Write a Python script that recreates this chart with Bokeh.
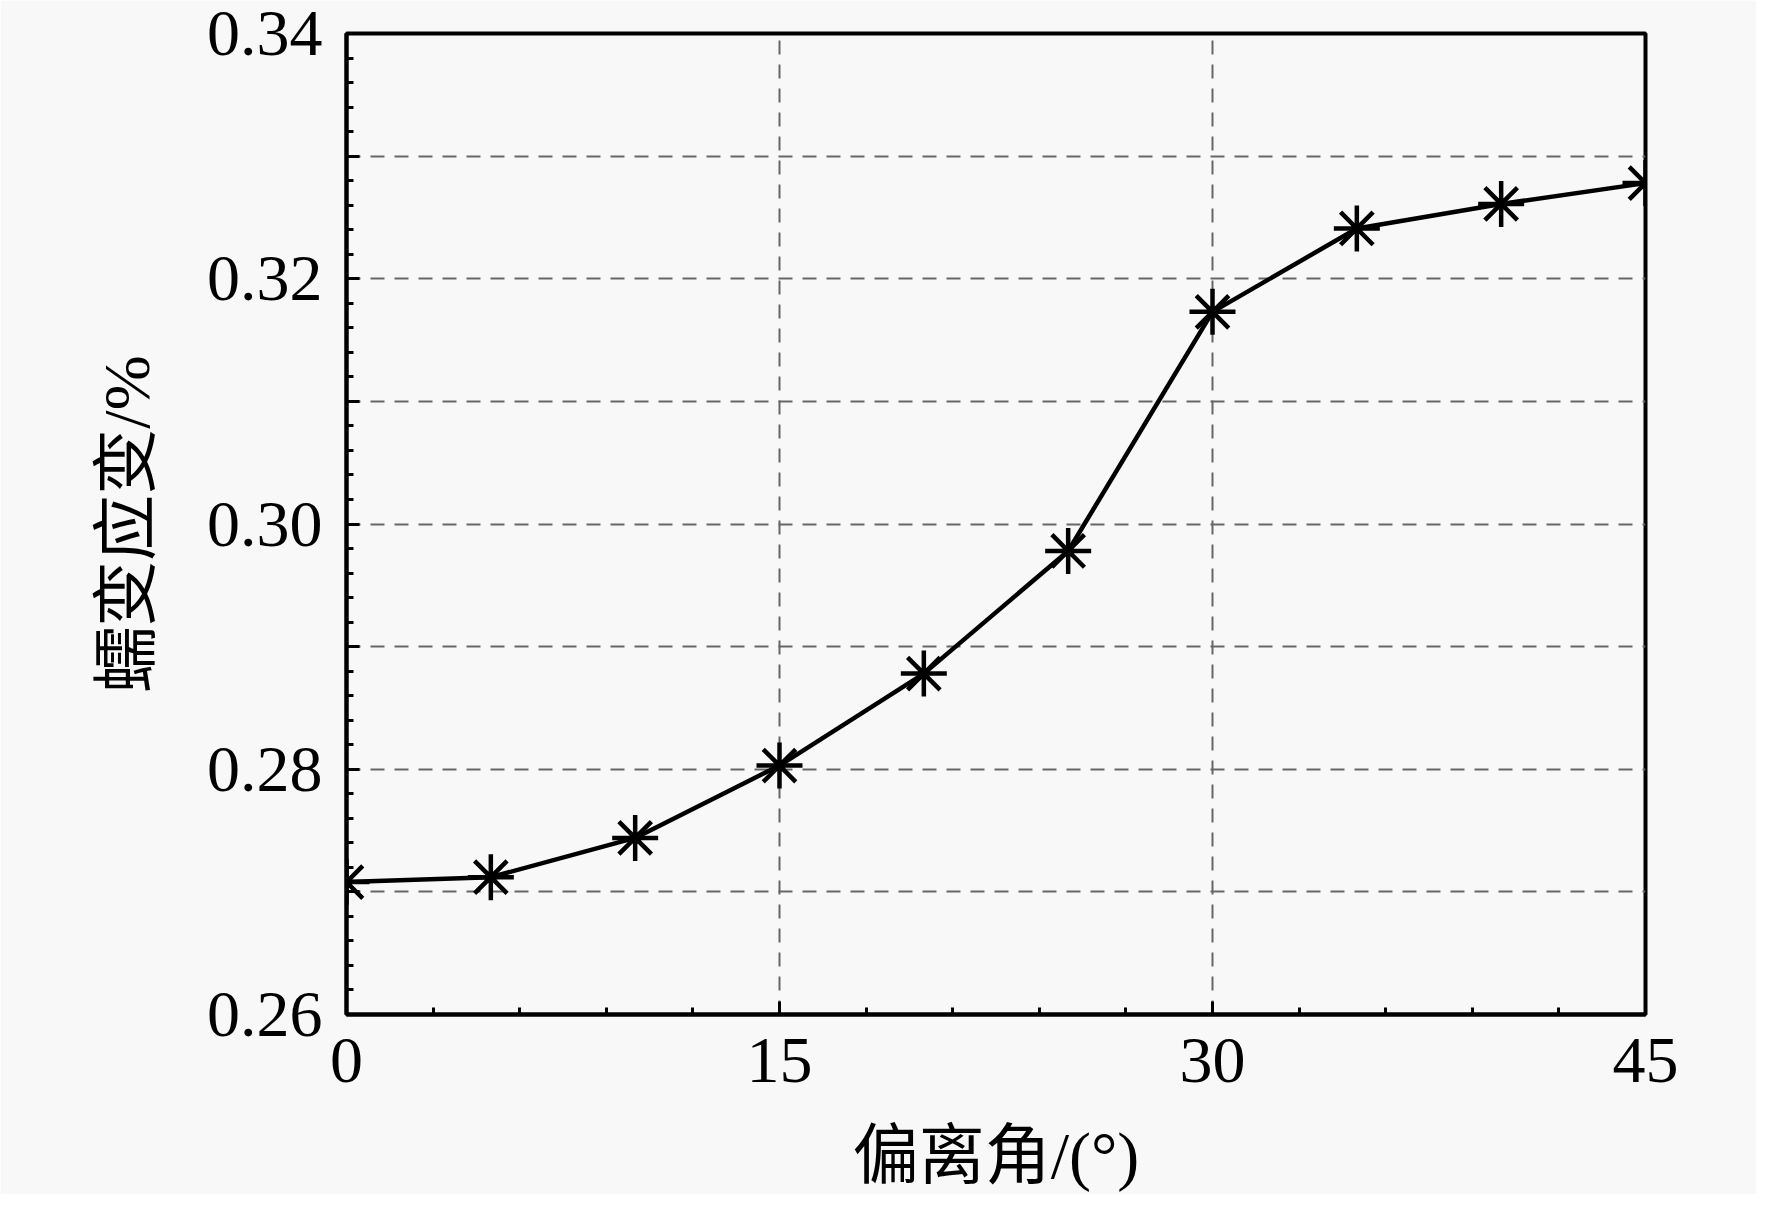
from bokeh.plotting import figure
from bokeh.models import Range1d, FixedTicker, CustomJSTickFormatter, ColumnDataSource
from bokeh.embed import file_html
from bokeh.resources import INLINE

# data
angle = [0, 5, 10, 15, 20, 25, 30, 35, 40, 45]
strain = [0.2708, 0.2712, 0.2744, 0.2803, 0.2878, 0.2978, 0.3173, 0.3241, 0.3261, 0.3278]

x_ticks = [0, 15, 30, 45]
x_minor = [3, 6, 9, 12, 18, 21, 24, 27, 33, 36, 39, 42]
y_ticks = [0.26, 0.27, 0.28, 0.29, 0.30, 0.31, 0.32, 0.33, 0.34]
y_minor = [round(0.26 + 0.002 * i, 3) for i in range(41)]

x_label = "偏离角/(°)"
y_label = "蠕变应变/%"

SERIF = "Liberation Serif, 'Times New Roman', Noto Sans CJK SC"
CJK = "'Liberation Serif', 'Noto Sans CJK SC'"
BG = "#f8f8f8"

p = figure(width=1756, height=1194, output_backend="svg", toolbar_location=None,
           x_range=Range1d(0, 45), y_range=Range1d(0.26, 0.34),
           min_border_left=346, min_border_right=111, min_border_top=33, min_border_bottom=178,
           background_fill_color=BG, border_fill_color=BG)

p.outline_line_color = "black"
p.outline_line_width = 4

# axes
p.xaxis.ticker = FixedTicker(ticks=x_ticks, minor_ticks=x_minor)
p.yaxis.ticker = FixedTicker(ticks=y_ticks, minor_ticks=y_minor)
p.yaxis.formatter = CustomJSTickFormatter(
    code="const k = Math.round(tick*100); return (k % 2 == 0) ? tick.toFixed(2) : '';")

for ax in (p.xaxis[0], p.yaxis[0]):
    ax.axis_line_width = 4
    ax.axis_line_color = "black"
    ax.major_tick_in = 13
    ax.major_tick_out = 0
    ax.minor_tick_in = 7
    ax.minor_tick_out = 0
    ax.major_tick_line_width = 3
    ax.minor_tick_line_width = 3
    ax.major_tick_line_color = "black"
    ax.minor_tick_line_color = "black"
    ax.major_label_text_font = SERIF
    ax.major_label_text_font_size = "66px"
    ax.major_label_text_color = "black"
    ax.major_label_text_line_height = 1.0
    ax.axis_label_text_font = CJK
    ax.axis_label_text_font_size = "66px"
    ax.axis_label_text_font_style = "normal"
    ax.axis_label_text_color = "black"
    ax.axis_label_text_line_height = 1.0

p.xaxis.major_label_standoff = 24
p.xaxis.axis_label_standoff = 34
p.yaxis.major_label_standoff = 24
p.yaxis.axis_label_standoff = 41
p.xaxis.axis_label = x_label
p.yaxis.axis_label = y_label

# grid
for g in (p.xgrid[0], p.ygrid[0]):
    g.grid_line_color = "#666666"
    g.grid_line_width = 2
    g.grid_line_dash = "14 10"
p.xgrid.ticker = FixedTicker(ticks=[15, 30])
p.ygrid.ticker = FixedTicker(ticks=[0.27, 0.28, 0.29, 0.30, 0.31, 0.32, 0.33])

src = ColumnDataSource(data=dict(x=angle, y=strain))
p.line("x", "y", source=src, line_color="black", line_width=4.5)
p.scatter("x", "y", source=src, marker="asterisk", size=46,
          line_color="black", line_width=4.5)

open("out.html", "w").write(file_html(p, INLINE))
